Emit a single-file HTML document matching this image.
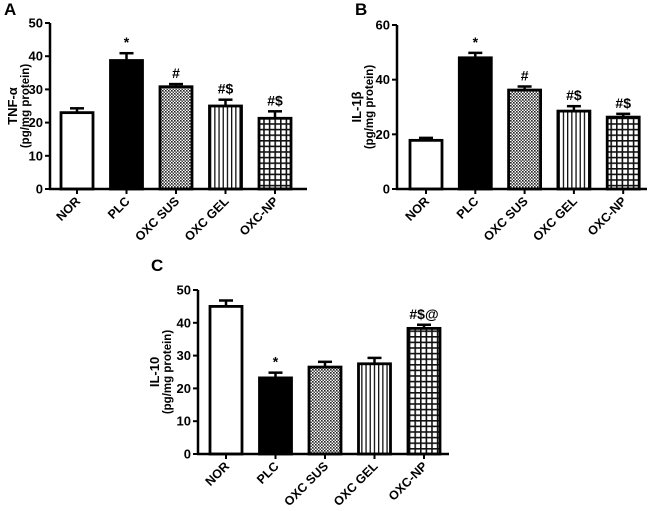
<!DOCTYPE html>
<html><head><meta charset="utf-8"><style>
html,body{margin:0;padding:0;background:#fff}
svg{display:block;font-family:"Liberation Sans",Arial,sans-serif;font-weight:bold}
</style></head><body>
<svg id="chart" width="649" height="511" viewBox="0 0 649 511" xmlns="http://www.w3.org/2000/svg">
<defs>
<pattern id="pDots" width="3" height="3" patternUnits="userSpaceOnUse"><rect width="3" height="3" fill="#fff"/><rect width="1.6" height="1.6" fill="#222"/><rect x="1.5" y="1.5" width="1.5" height="1.5" fill="#444"/></pattern>
<pattern id="pVert" width="4.2" height="4" patternUnits="userSpaceOnUse"><rect width="4.2" height="4" fill="#fff"/><rect width="1.3" height="4" fill="#111"/></pattern>
<pattern id="pGrid" width="5.6" height="5.6" patternUnits="userSpaceOnUse"><rect width="5.6" height="5.6" fill="#111"/><rect x="1.6" y="1.6" width="4" height="4" fill="#fff"/></pattern>
</defs>
</svg>
<script>
const categories = ["NOR","PLC","OXC SUS","OXC GEL","OXC-NP"];
const tnfValues = [23, 38.7, 30.8, 25, 21.3];
const tnfErrors = [1.3, 2.2, 0.8, 1.9, 2.1];
const tnfMarks = ["", "*", "#", "#$", "#$"];
const tnfTicks = [0,10,20,30,40,50];
const il1Values = [17.8, 48, 36.2, 28.5, 26.3];
const il1Errors = [0.9, 1.8, 1.3, 1.8, 1.2];
const il1Marks = ["", "*", "#", "#$", "#$"];
const il1Ticks = [0,20,40,60];
const il10Values = [45, 23.2, 26.5, 27.5, 38.3];
const il10Errors = [1.8, 1.6, 1.6, 1.8, 1.1];
const il10Marks = ["", "*", "", "", "#$@"];
const il10Ticks = [0,10,20,30,40,50];

const fills = ["#fff","#000","url(#pDots)","url(#pVert)","url(#pGrid)"];
const svg = document.getElementById('chart');
const NS = "http://www.w3.org/2000/svg";
function mk(tag, attrs, parent){const e=document.createElementNS(NS,tag);for(const k in attrs)e.setAttribute(k,attrs[k]);(parent||svg).appendChild(e);return e;}

function panel(o){
  const g = mk('g',{});
  
  
  const ymax=o.ticks[o.ticks.length-1];
  const y=v=>o.y0-(v/ymax)*(o.y0-o.yTop);
  const x=i=>o.x0+o.first+i*o.step;
  const L=mk('text',{x:o.lx,y:o.ly,'font-size':17},g); L.textContent=o.id;
  
  
  o.values.forEach((v,i)=>{
    const cx=x(i), top=y(v), et=y(v+o.errors[i]);
    const el=mk('line',{x1:cx,x2:cx,y1:top,y2:et,stroke:'#000','stroke-width':2.5},g);
    
    
    const ec=mk('line',{x1:cx-7,x2:cx+7,y1:et,y2:et,stroke:'#000','stroke-width':2.5},g);
    
    
    const r=mk('rect',{x:cx-16,y:top,width:32,height:o.y0-top,fill:fills[i],stroke:'#000','stroke-width':2.8},g);
    
    
    if(o.marks[i]){
      const t=mk('text',{x:cx,y:et-6,'text-anchor':'middle','font-size':14},g);
      t.textContent=o.marks[i];
      
      
    }
    const tk=mk('line',{x1:cx,x2:cx,y1:o.y0,y2:o.y0+5,stroke:'#000','stroke-width':2},g);
    
    
    const lb=mk('text',{x:cx+4,y:o.y0+13,'text-anchor':'end','font-size':12.5,transform:`rotate(-45 ${cx+4} ${o.y0+13})`},g);
    lb.textContent=categories[i];
    
    
  });
  const ya=mk('line',{x1:o.x0,x2:o.x0,y1:o.yTop,y2:o.y0+1,stroke:'#000','stroke-width':2.5},g);
   
  const xa=mk('line',{x1:o.x0-1,x2:o.xEnd,y1:o.y0,y2:o.y0,stroke:'#000','stroke-width':2.5},g);
   
  o.ticks.forEach(t=>{
    const yy=y(t);
    const tl=mk('line',{x1:o.x0-5,x2:o.x0,y1:yy,y2:yy,stroke:'#000','stroke-width':2},g);
     
    const tt=mk('text',{x:o.x0-7,y:yy+4.5,'text-anchor':'end','font-size':13},g);
    tt.textContent=t;
     
  });
  const t1=mk('text',{x:o.tx,y:o.ty,'text-anchor':'middle','font-size':13,transform:`rotate(-90 ${o.tx} ${o.ty})`},g);
  t1.textContent=o.title;
   
  const t2=mk('text',{x:o.tx+12,y:o.ty,'text-anchor':'middle','font-size':11.5,transform:`rotate(-90 ${o.tx+12} ${o.ty})`},g);
  t2.textContent='(pg/mg protein)';
   
}
panel({id:'A',values:tnfValues,errors:tnfErrors,marks:tnfMarks,ticks:tnfTicks,x0:50,xEnd:307,first:27,step:49.5,y0:189,yTop:23,lx:4,ly:15,title:'TNF-α',tx:17,ty:106});
panel({id:'B',values:il1Values,errors:il1Errors,marks:il1Marks,ticks:il1Ticks,x0:397,xEnd:647,first:29,step:49.3,y0:189,yTop:25,lx:355,ly:15,title:'IL-1β',tx:361,ty:107});
panel({id:'C',values:il10Values,errors:il10Errors,marks:il10Marks,ticks:il10Ticks,x0:198,xEnd:449,first:28,step:49.5,y0:454,yTop:290,lx:151,ly:271,title:'IL-10',tx:159,ty:372});
</script>
</body></html>
